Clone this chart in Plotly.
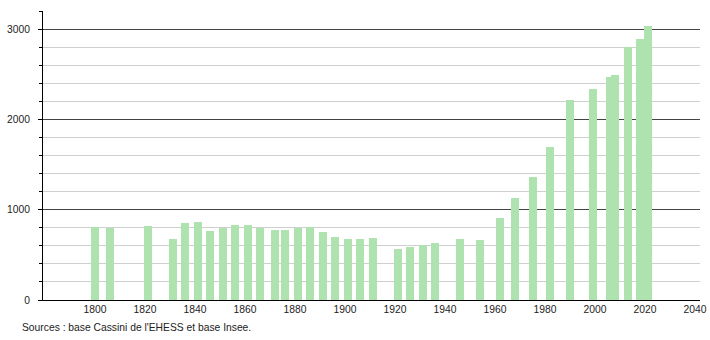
import plotly.graph_objects as go

years = [1800, 1806, 1821, 1831, 1836, 1841, 1846, 1851, 1856, 1861, 1866,
         1872, 1876, 1881, 1886, 1891, 1896, 1901, 1906, 1911,
         1921, 1926, 1931, 1936, 1946, 1954, 1962, 1968, 1975, 1982,
         1990, 1999, 2006, 2008, 2013, 2018, 2021]
population = [813, 795, 820, 680, 854, 868, 768, 798, 831, 831, 800,
              776, 776, 795, 806, 757, 702, 676, 676, 687,
              565, 591, 610, 628, 680, 668, 909, 1127, 1360, 1696,
              2217, 2339, 2465, 2492, 2797, 2890, 3038]
x_ticks = [1800, 1820, 1840, 1860, 1880, 1900, 1920, 1940, 1960, 1980, 2000, 2020, 2040]
y_ticks = [0, 1000, 2000, 3000]
source_text = "Sources : base Cassini de l'EHESS et base Insee."

fig = go.Figure()
fig.add_trace(go.Bar(
    x=years, y=population, width=3.2,
    marker=dict(color="rgb(174,226,174)", line=dict(width=0)),
    hoverinfo="x+y",
))

font = dict(family="Liberation Sans, Arial, sans-serif", size=10.3, color="#222")

fig.update_layout(
    width=710, height=340,
    margin=dict(l=43, r=10, t=11, b=40, autoexpand=False),
    paper_bgcolor="white", plot_bgcolor="white",
    showlegend=False,
    font=font,
    bargap=0,
    xaxis=dict(
        range=[1779.2, 2042], tickvals=x_ticks, ticktext=[str(v) for v in x_ticks],
        showgrid=False, zeroline=False, showline=True, linecolor="black", linewidth=1,
        ticks="", tickfont=font, ticklabelstandoff=0, automargin=False,
    ),
    yaxis=dict(
        range=[0, 3200], tickvals=y_ticks, ticktext=[str(v) for v in y_ticks],
        showgrid=True, gridcolor="#444", gridwidth=1,
        zeroline=False, showline=True, linecolor="black", linewidth=1,
        ticks="outside", ticklen=4, tickcolor="black",
        minor=dict(dtick=200, showgrid=True, gridcolor="#cfcfcf", gridwidth=1,
                   ticks="outside", ticklen=3, tickcolor="black"),
        tickfont=font, ticklabelstandoff=6, automargin=False,
    ),
    annotations=[dict(
        text=source_text, xref="paper", yref="paper", x=-0.035, y=-0.07,
        xanchor="left", yanchor="top", showarrow=False,
        font=dict(family="Liberation Sans, Arial, sans-serif", size=10.3, color="#222"),
    )],
)

fig.write_html("out.html")
